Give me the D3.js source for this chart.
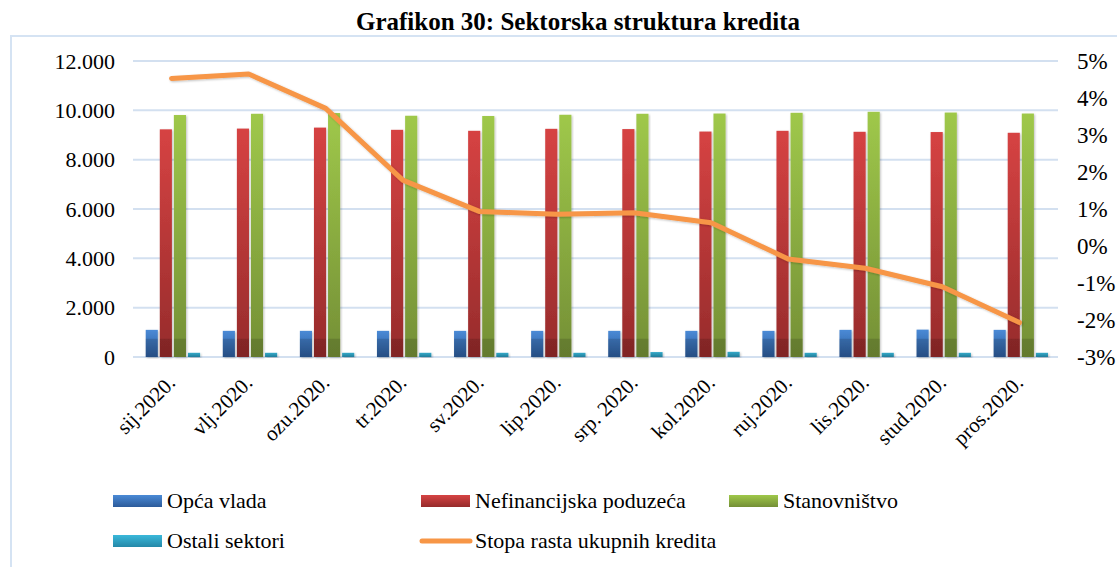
<!DOCTYPE html>
<html>
<head>
<meta charset="utf-8">
<script src="https://cdn.jsdelivr.net/npm/d3@7"></script>
<style>
body{margin:0;background:#fff;}
text{font-family:"Liberation Serif","Times New Roman",serif;fill:#000;}
</style>
</head>
<body>
<svg></svg>
<script>
var width=1117;
var height=567;

var months=["sij.2020.","vlj.2020.","ozu.2020.","tr.2020.","sv.2020.","lip.2020.","srp. 2020.","kol.2020.","ruj.2020.","lis.2020.","stud.2020.","pros.2020."];
var opcaVlada=[1100,1060,1060,1060,1060,1060,1060,1060,1060,1100,1110,1100];
var nefinancijska=[9230,9260,9300,9210,9170,9250,9240,9140,9170,9130,9120,9090];
var stanovnistvo=[9810,9860,9890,9780,9770,9820,9860,9870,9900,9940,9910,9870];
var ostali=[170,170,170,170,170,170,200,210,170,170,170,170];
var stopa=[4.53,4.65,3.72,1.78,0.93,0.86,0.9,0.63,-0.35,-0.6,-1.1,-2.07];
var leftTicks=[0,2000,4000,6000,8000,10000,12000];
var rightTicks=[-3,-2,-1,0,1,2,3,4,5];

var seriesNames=["Opća vlada","Nefinancijska poduzeća","Stanovništvo","Ostali sektori"];
var seriesData=[opcaVlada,nefinancijska,stanovnistvo,ostali];
var colors=[["#4a8ad6","#2c5b9a"],["#d64343","#962b2b"],["#9fc84a","#748f36"],["#3ab8da","#2488a8"]];
var lineName="Stopa rasta ukupnih kredita";
var lineColor="#f79646";

var svg=d3.select("svg")
	.attr("width",width)
	.attr("height",height);

var defs=svg.append("defs");
colors.forEach(function(c,i){
	var g=defs.append("linearGradient").attr("id","grad"+i)
		.attr("x1",0).attr("y1",0).attr("x2",0).attr("y2",1);
	g.append("stop").attr("offset","0%").attr("stop-color",c[0]);
	g.append("stop").attr("offset","100%").attr("stop-color",c[1]);
});
var f=defs.append("filter").attr("id","shadow").attr("x","-20%").attr("y","-5%").attr("width","140%").attr("height","110%");
f.append("feDropShadow").attr("dx",1).attr("dy",1).attr("stdDeviation",1.2).attr("flood-color","#000").attr("flood-opacity",0.25);

// outer frame
svg.append("rect")
	.attr("x",11).attr("y",36)
	.attr("width",1200).attr("height",600)
	.attr("fill","none")
	.attr("stroke","#d5e3f3")
	.attr("stroke-width",2);

svg.append("text")
	.attr("x",578)
	.attr("y",30)
	.style("text-anchor","middle")
	.style("font-weight","bold")
	.style("font-size","25px")
	.text("Grafikon 30: Sektorska struktura kredita");

var plotLeft=133, plotRight=1058, plotTop=61, plotBottom=357;

var scalex=d3.scaleBand()
	.domain(months)
	.range([plotLeft,plotRight]);

var scalex1=d3.scaleBand()
	.domain(d3.range(4))
	.range([scalex.bandwidth()*0.165,scalex.bandwidth()*0.87])
	.paddingInner(0.14);

var scaley=d3.scaleLinear()
	.domain([0,12000])
	.range([plotBottom,plotTop]);

var scaley2=d3.scaleLinear()
	.domain([-3,5])
	.range([plotBottom,plotTop]);

// gridlines
svg.append("g")
	.selectAll("line")
	.data(leftTicks)
	.enter()
	.append("line")
	.attr("x1",plotLeft)
	.attr("x2",plotRight)
	.attr("y1",d=>scaley(d))
	.attr("y2",d=>scaley(d))
	.attr("stroke","#d3e0f0")
	.attr("stroke-width",2);

var yaxis=d3.axisLeft(scaley)
	.tickValues(leftTicks)
	.tickSize(0)
	.tickPadding(18)
	.tickFormat(d=>d3.format(",")(d).replace(/,/g,"."));

svg.append("g")
	.attr("transform","translate("+plotLeft+",0)")
	.call(yaxis)
	.attr("font-family",null)
	.call(g=>g.select(".domain").remove())
	.selectAll("text")
	.style("font-size","22px");

var yaxis2=d3.axisRight(scaley2)
	.tickValues(rightTicks)
	.tickSize(0)
	.tickPadding(19)
	.tickFormat(d=>d+"%");

svg.append("g")
	.attr("transform","translate("+plotRight+",0)")
	.call(yaxis2)
	.attr("font-family",null)
	.call(g=>g.select(".domain").remove())
	.selectAll("text")
	.style("font-size","23px");

// bars
var groups=svg.append("g")
	.selectAll("g")
	.data(months)
	.enter()
	.append("g")
	.attr("transform",d=>"translate("+scalex(d)+",0)");

groups.each(function(m,mi){
	var gg=d3.select(this);
	seriesData.forEach(function(arr,si){
		var v=arr[mi];
		gg.append("rect")
			.attr("x",scalex1(si))
			.attr("y",scaley(v))
			.attr("width",scalex1.bandwidth())
			.attr("height",scaley(0)-scaley(v))
			.attr("fill","url(#grad"+si+")")
			.attr("filter","url(#shadow)");
		// darker lower part of each bar
		var low=Math.min(v,740);
		gg.append("rect")
			.attr("x",scalex1(si))
			.attr("y",scaley(low))
			.attr("width",scalex1.bandwidth())
			.attr("height",scaley(0)-scaley(low))
			.attr("fill","#000")
			.attr("opacity",si==3?0.08:0.14);
	});
});

// x labels
svg.append("g")
	.selectAll("text")
	.data(months)
	.enter()
	.append("text")
	.attr("transform",d=>"translate("+(scalex(d)+scalex.bandwidth()/2+5)+","+(plotBottom+27)+") rotate(-45)")
	.style("text-anchor","end")
	.style("font-size","21px")
	.text(d=>d);

// line
var line=d3.line()
	.x((d,i)=>scalex(months[i])+scalex.bandwidth()/2)
	.y(d=>scaley2(d));

svg.append("path")
	.datum(stopa)
	.attr("d",line)
	.attr("fill","none")
	.attr("stroke",lineColor)
	.attr("stroke-width",5)
	.attr("stroke-linejoin","round")
	.attr("stroke-linecap","round")
	.attr("filter","url(#shadow)");

// legend
var legendItems=[
	{name:seriesNames[0],type:"bar",idx:0,x:113,y:501},
	{name:seriesNames[1],type:"bar",idx:1,x:421,y:501},
	{name:seriesNames[2],type:"bar",idx:2,x:729,y:501},
	{name:seriesNames[3],type:"bar",idx:3,x:113,y:541},
	{name:lineName,type:"line",x:421,y:541}
];

var legend=svg.append("g")
	.selectAll("g")
	.data(legendItems)
	.enter()
	.append("g")
	.attr("transform",d=>"translate("+d.x+","+d.y+")");

legend.filter(d=>d.type=="bar")
	.append("rect")
	.attr("x",0)
	.attr("y",-6)
	.attr("width",49)
	.attr("height",12)
	.attr("fill",d=>"url(#grad"+d.idx+")");

legend.filter(d=>d.type=="line")
	.append("line")
	.attr("x1",1)
	.attr("x2",49)
	.attr("y1",0)
	.attr("y2",0)
	.attr("stroke",lineColor)
	.attr("stroke-width",5)
	.attr("stroke-linecap","round");

legend.append("text")
	.attr("x",54)
	.attr("y",7)
	.style("font-size","22px")
	.text(d=>d.name);
</script>
</body>
</html>
